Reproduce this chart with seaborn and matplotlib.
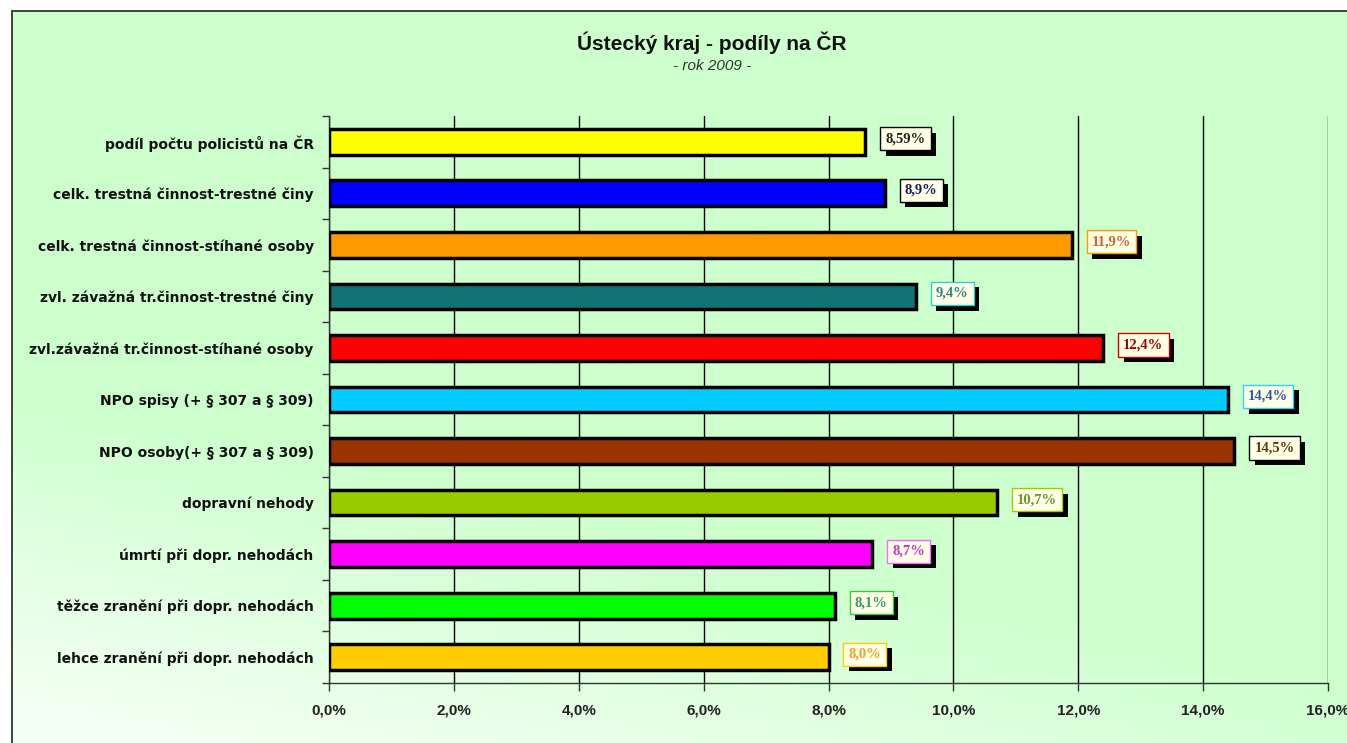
import numpy as np
import pandas as pd
import matplotlib
matplotlib.use("Agg")
import matplotlib.pyplot as plt
import matplotlib.patheffects as pe
from matplotlib.patches import Rectangle
from matplotlib.ticker import FixedLocator, FuncFormatter
import seaborn as sns

categories = [
    "podíl počtu policistů na ČR",
    "celk. trestná činnost-trestné činy",
    "celk. trestná činnost-stíhané osoby",
    "zvl. závažná tr.činnost-trestné činy",
    "zvl.závažná tr.činnost-stíhané osoby",
    "NPO spisy (+ § 307 a § 309)",
    "NPO osoby(+ § 307 a § 309)",
    "dopravní nehody",
    "úmrtí při dopr. nehodách",
    "těžce zranění při dopr. nehodách",
    "lehce zranění při dopr. nehodách",
]
values = [8.59, 8.9, 11.9, 9.4, 12.4, 14.4, 14.5, 10.7, 8.7, 8.1, 8.0]
value_labels = ["8,59%", "8,9%", "11,9%", "9,4%", "12,4%", "14,4%", "14,5%",
                "10,7%", "8,7%", "8,1%", "8,0%"]
bar_colors = ["#FFFF00", "#0000FF", "#FF9900", "#137272", "#FF0000", "#00CCFF",
              "#993300", "#99CC00", "#FF00FF", "#00FF00", "#FFCC00"]
label_text_colors = ["#222222", "#1a1a66", "#CC6633", "#2E8585", "#990000", "#3355AA",
                     "#663300", "#669933", "#CC33CC", "#339966", "#F0A030"]
label_edge_colors = ["#000000", "#000000", "#FF9900", "#33CCCC", "#CC0000", "#33CCFF",
                     "#000000", "#99CC00", "#FF66FF", "#33CC33", "#FFCC00"]
x_ticks = [0, 2, 4, 6, 8, 10, 12, 14, 16]
title = "Ústecký kraj - podíly na ČR"
subtitle = "- rok 2009 -"

sns.set_theme(style="white")
plt.rcParams['font.family'] = ['Liberation Sans', 'DejaVu Sans']

W, H = 1347, 743
fig = plt.figure(figsize=(W / 100, H / 100), dpi=100)
fig.patch.set_facecolor("white")

# background gradient inside frame
fx0 = 12 / W
fy1 = (H - 11) / H
bg = fig.add_axes([fx0, 0, 1 - fx0, fy1], zorder=-10)
ny, nx = 200, 300
u = np.linspace(0, 1, nx)[None, :]
v = np.linspace(1, 0, ny)[:, None]
f = np.clip(u * 0.8 + v * 2.0, 0.08, 1.0)
green = np.array([204, 255, 204]) / 255.0
white = np.array([248, 255, 248]) / 255.0
img = white[None, None, :] * (1 - f[..., None]) + green[None, None, :] * f[..., None]
bg.imshow(img, aspect="auto", extent=[0, 1, 0, 1], interpolation="bilinear")
bg.set_axis_off()
fig.add_artist(Rectangle((fx0, -0.05), 1.2, fy1 + 0.05, transform=fig.transFigure,
                         fill=False, edgecolor="#333333", linewidth=1.3, zorder=5))

ax = fig.add_axes([329 / W, (H - 683) / H, (1328 - 329) / W, (683 - 116) / H])
ax.patch.set_alpha(0)

df = pd.DataFrame({"category": categories, "value": values})
sns.barplot(data=df, y="category", x="value", hue="category", palette=bar_colors,
            orient="h", legend=False, ax=ax, width=0.5, edgecolor="black",
            linewidth=2.5, saturation=1, zorder=3)

ax.set_xlim(0, 16)
ax.set_ylim(len(categories) - 0.5, -0.5)
ax.xaxis.set_major_locator(FixedLocator(x_ticks))
ax.xaxis.set_major_formatter(FuncFormatter(lambda x, p: f"{x:.1f}".replace(".", ",") + "%"))
ax.grid(axis="x", color="black", linewidth=1.0, zorder=1)
ax.grid(axis="y", visible=False)
for s in ["top", "right"]:
    ax.spines[s].set_visible(False)
for s in ["left", "bottom"]:
    ax.spines[s].set_color("#333333")
    ax.spines[s].set_linewidth(1.0)
ax.set_xlabel("")
ax.set_ylabel("")

ax.tick_params(axis="x", which="major", direction="out", length=6, width=1,
               color="#333333", pad=9, labelsize=11, bottom=True)
for lbl in ax.get_xticklabels():
    lbl.set_fontweight("bold")
    lbl.set_color("#222222")

ax.tick_params(axis="y", which="major", length=0, pad=11, labelsize=10, left=False)
ax.yaxis.set_minor_locator(FixedLocator([i - 0.5 for i in range(len(categories) + 1)]))
ax.tick_params(axis="y", which="minor", direction="out", length=5, width=1,
               color="#333333", left=True)
for lbl in ax.get_yticklabels():
    lbl.set_fontweight("bold")
    lbl.set_family(["DejaVu Sans"])
    lbl.set_color("#111111")

for i, (val, txt) in enumerate(zip(values, value_labels)):
    t = ax.annotate(txt, xy=(val, i), xytext=(20, 3), textcoords="offset pixels",
                    ha="left", va="center", fontsize=10.5, fontweight="bold",
                    family=["Liberation Serif", "DejaVu Serif"],
                    color=label_text_colors[i], zorder=6,
                    bbox=dict(boxstyle="square,pad=0.35", facecolor="#FFFFE6",
                              edgecolor=label_edge_colors[i], linewidth=1.0))
    t.get_bbox_patch().set_path_effects([
        pe.SimplePatchShadow(offset=(4, -4), shadow_rgbFace="black", alpha=1.0),
        pe.Normal()])

fig.text(712 / W, 1 - 43 / H, title, ha="center", va="center", fontsize=15,
         fontweight="bold", color="#111111")
fig.text(712 / W, 1 - 66 / H, subtitle, ha="center", va="center", fontsize=11,
         style="italic", color="#333333")

fig.savefig("out.png", dpi=100)
